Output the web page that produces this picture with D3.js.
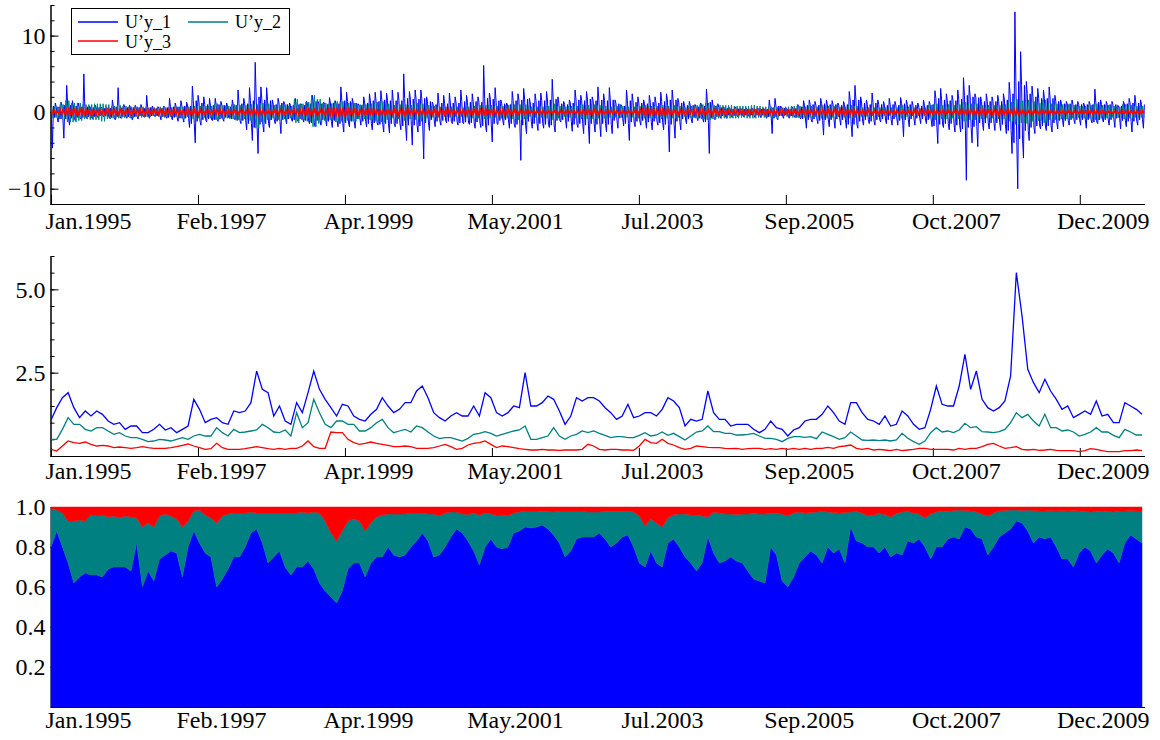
<!DOCTYPE html>
<html>
<head>
<meta charset="utf-8">
<script src="https://cdn.jsdelivr.net/npm/d3@7"></script>
<style>
  body { margin: 0; background: #fff; }
  svg text { font-family: "Liberation Serif", "Times New Roman", serif; }
</style>
</head>
<body>
<div class="chart"></div>
<script>
"use strict";

// one sample per month, Jan.1995 .. late 2010
var seriesNames = ["U\u2019y_1", "U\u2019y_2", "U\u2019y_3"];
var tickLabels = ["Jan.1995", "Feb.1997", "Apr.1999", "May.2001", "Jul.2003", "Sep.2005", "Oct.2007", "Dec.2009"];
var monthsPerTick = 25.73;

// top panel: monthly high / low of the daily series, plus the size of the dense core of U'y_1
var u1Hi = [3.7,1.2,1.3,3.5,1.5,1.2,5.0,0.8,0.9,0.7, 0.6,1.6,3.2,1.0,0.9,0.9,1.0,2.2,0.8,0.7,
  0.8,1.8,1.2,1.5,1.3,3.4,2.2,2.0,1.8,1.8, 1.4,1.2,1.6,2.9,1.8,3.2,6.5,3.3,3.2,1.6,
  1.8,1.4,1.2,1.8,1.1,1.4,2.2,1.4,1.3,1.9, 1.5,3.3,2.6,1.8,1.1,2.0,2.4,2.6,2.8,2.5,
  2.9,2.6,5.0,2.7,2.9,2.9,2.0,1.3,2.5,2.2, 2.5,2.0,2.9,2.2,2.4,2.0,6.1,2.5,3.2,1.6,
  1.2,2.7,2.4,3.1,1.8,2.4,2.5,2.7,4.3,2.0, 1.4,1.6,2.9,2.2,2.7,2.0,3.3,2.4,3.2,1.6,
  1.0,2.9,2.4,2.0,1.6,2.2,2.0,2.6,2.4,2.9, 1.8,1.4,1.4,1.0,1.2,3.0,1.6,1.1,0.7,0.6,
  0.7,0.5,0.5,0.5,0.5,0.5,1.6,1.8,0.8,0.5, 0.7,1.0,1.5,1.6,1.4,1.8,1.6,1.5,1.2,1.4,
  2.7,3.5,2.0,1.6,2.5,1.6,1.4,1.8,1.4,1.9, 1.6,1.4,1.2,1.6,1.4,2.8,3.1,2.4,2.2,2.9,
  4.5,3.5,2.4,2.0,2.4,2.0,2.2,2.4,3.9,13.1, 7.9,4.0,3.4,3.1,2.9,3.3,2.2,1.6,1.4,1.6,
  1.4,1.2,1.4,3.0,1.6,1.4,1.4,0.9,1.4,1.8, 2.2,1.6];
var u1Lo = [-4.7,-1.3,-3.4,-1.7,-1.1,-0.9,-0.8,-0.9,-0.7,-0.6, -0.8,-1.0,-0.8,-0.8,-1.0,-0.9,-0.6,-0.8,-0.6,-1.0,
  -0.8,-1.0,-1.2,-1.3,-2.0,-4.0,-1.7,-1.3,-1.1,-1.2, -1.2,-0.8,-1.0,-1.5,-2.3,-3.7,-5.4,-2.6,-2.0,-1.5,
  -2.8,-1.5,-1.2,-1.2,-1.3,-1.5,-1.9,-1.7,-1.8,-2.0, -1.9,-2.6,-1.9,-2.1,-1.7,-1.9,-2.3,-1.7,-2.6,-2.7,
  -1.9,-2.3,-3.7,-4.3,-2.6,-6.1,-2.4,-1.9,-1.7,-1.4, -1.5,-1.7,-1.5,-1.6,-2.1,-2.0,-2.6,-3.9,-1.6,-1.7,
  -2.1,-2.0,-6.3,-2.8,-2.1,-2.4,-2.1,-2.0,-2.6,-1.3, -2.1,-2.5,-2.0,-2.8,-4.1,-2.6,-3.2,-2.6,-2.8,-2.1,
  -1.8,-3.7,-1.9,-1.7,-2.1,-2.3,-1.7,-2.3,-5.2,-3.4, -2.3,-1.5,-1.4,-1.1,-1.3,-5.4,-1.0,-0.8,-0.8,-0.7,
  -0.6,-0.6,-0.6,-0.7,-0.7,-0.8,-2.8,-1.0,-0.8,-0.8, -0.7,-0.9,-2.1,-1.3,-1.5,-3.0,-1.9,-2.1,-1.7,-2.1,
  -3.2,-2.1,-1.7,-1.5,-1.7,-1.3,-1.5,-1.7,-1.7,-3.2, -1.9,-1.7,-1.5,-1.5,-1.9,-4.1,-2.0,-2.3,-2.6,-2.6,
  -8.9,-4.0,-4.5,-2.4,-2.2,-2.4,-2.4,-2.8,-5.4,-10.0, -6.0,-3.7,-2.8,-2.2,-2.4,-2.6,-2.2,-1.9,-1.7,-1.5,
  -1.7,-2.1,-1.4,-1.5,-1.3,-1.7,-2.0,-2.2,-1.9,-2.6, -1.7,-2.1];
var u1Core = [0.8,0.7,0.9,0.9,0.8,0.7,0.7,0.6,0.6,0.5,0.5,0.7,
  0.6,0.6,0.6,0.6,0.5,0.6,0.5,0.5,0.6,0.7,0.7,0.8,
  0.8,1.5,1.2,1.0,0.9,1.0,0.9,0.7,0.9,1.1,1.1,1.5,
  2.0,1.6,1.5,1.0,1.2,1.0,0.9,1.0,0.9,1.1,1.4,1.1,
  1.0,1.2,1.1,1.5,1.4,1.2,0.9,1.2,1.5,1.4,1.6,1.5,
  1.5,1.5,1.8,1.7,1.7,1.8,1.4,1.0,1.2,1.1,1.2,1.2,
  1.4,1.3,1.4,1.3,1.8,1.7,1.5,1.1,1.0,1.5,1.6,1.7,
  1.2,1.5,1.5,1.6,1.7,1.1,1.0,1.2,1.6,1.5,1.7,1.5,
  1.6,1.5,1.6,1.1,0.8,1.5,1.3,1.2,1.1,1.3,1.2,1.4,
  1.6,1.6,1.2,0.9,0.9,0.7,0.8,1.3,0.8,0.6,0.5,0.4,
  0.45,0.4,0.4,0.4,0.4,0.4,0.6,0.8,0.5,0.4,0.5,0.7,
  0.9,1.0,0.9,1.1,1.0,1.0,0.9,1.0,1.6,1.6,1.2,1.0,
  1.2,1.0,0.9,1.0,0.9,1.1,1.0,0.9,0.8,0.9,1.0,1.8,
  1.6,1.5,1.5,1.7,2.2,2.0,1.9,1.4,1.4,1.4,1.4,1.6,
  2.4,4.0,3.5,2.4,2.0,1.8,1.8,1.8,1.4,1.1,1.1,1.0,
  1.0,1.0,1.0,1.3,1.0,1.0,1.0,0.8,1.1,1.2,1.2,1.0];
var u2Hi = [0.7,0.7,1.0,1.5,1.2,1.2,1.0,1.0,1.1,1.1, 1.0,0.8,0.9,0.8,0.7,0.7,0.7,0.6,0.6,0.7,
  0.6,0.6,0.7,0.7,0.7,0.8,0.8,0.8,0.8,1.1, 0.9,0.8,1.0,0.9,0.9,1.0,1.0,1.2,1.1,0.9,
  0.9,1.0,0.8,1.7,1.1,1.3,2.2,1.7,1.2,1.1, 1.4,1.4,1.2,1.2,1.0,1.0,1.1,1.3,1.4,1.1,
  0.9,1.0,1.0,0.9,1.2,1.1,0.9,0.8,0.7,0.7, 0.7,0.7,0.6,0.7,0.8,0.9,0.9,0.9,0.8,0.8,
  0.9,1.0,1.0,1.0,0.7,0.7,0.7,0.8,1.1,0.8, 0.7,0.8,0.8,1.0,0.9,1.0,0.9,0.8,0.7,0.8,
  0.8,0.7,0.7,0.8,0.9,0.8,0.8,0.9,0.8,0.9, 0.8,0.6,0.8,0.9,1.0,1.2,0.9,0.9,0.9,0.9,
  0.8,0.8,0.8,0.9,0.8,0.7,0.7,0.7,0.6,0.7, 0.8,0.8,0.7,0.8,0.7,0.9,0.8,0.8,0.7,0.7,
  0.9,0.8,0.6,0.6,0.6,0.6,0.6,0.6,0.6,0.9, 0.7,0.6,0.5,0.6,0.9,1.1,0.9,1.0,0.9,1.0,
  1.3,1.1,1.1,0.9,0.9,0.9,0.9,1.0,1.3,1.7, 1.5,1.6,1.4,1.2,1.6,1.1,1.1,1.0,1.0,0.9,
  0.8,0.8,0.9,1.1,0.9,0.9,0.8,0.7,1.0,0.9, 0.8,0.8];
var u2Lo = [-0.8,-0.7,-0.9,-1.3,-1.3,-1.1,-0.9,-1.0,-1.0,-1.2, -0.9,-0.8,-0.8,-0.7,-0.8,-0.6,-0.7,-0.6,-0.5,-0.6,
  -0.7,-0.6,-0.6,-0.8,-0.6,-0.9,-0.8,-0.7,-0.8,-1.0, -0.8,-0.8,-0.9,-1.0,-0.9,-1.1,-2.1,-1.3,-1.0,-0.8,
  -1.0,-0.9,-0.8,-1.4,-1.0,-1.2,-1.9,-1.5,-1.1,-1.0, -1.3,-1.2,-1.1,-1.2,-0.9,-0.9,-1.0,-1.2,-1.3,-1.0,
  -0.8,-0.9,-1.1,-0.9,-1.0,-1.2,-0.8,-0.7,-0.7,-0.6, -0.7,-0.6,-0.6,-0.7,-0.8,-0.8,-0.9,-0.8,-0.7,-0.8,
  -0.8,-0.9,-1.0,-0.9,-0.6,-0.7,-0.7,-0.8,-1.0,-0.8, -0.6,-0.7,-0.8,-0.9,-0.9,-0.9,-0.8,-0.8,-0.7,-0.7,
  -0.7,-0.7,-0.7,-0.8,-0.8,-0.8,-0.8,-0.9,-0.8,-0.8, -0.7,-0.6,-0.7,-0.8,-0.9,-1.0,-0.9,-0.8,-0.8,-0.8,
  -0.8,-0.7,-0.8,-0.8,-0.7,-0.7,-0.6,-0.6,-0.5,-0.6, -0.7,-0.7,-0.7,-0.7,-0.6,-0.8,-0.8,-0.7,-0.6,-0.7,
  -0.8,-0.7,-0.6,-0.6,-0.5,-0.6,-0.5,-0.5,-0.6,-0.8, -0.6,-0.5,-0.5,-0.5,-0.8,-1.0,-0.9,-0.9,-0.8,-0.9,
  -1.2,-1.0,-1.0,-0.9,-0.8,-0.8,-0.9,-0.9,-1.2,-1.6, -1.4,-1.5,-1.2,-1.1,-1.4,-1.0,-1.0,-0.9,-0.9,-0.8,
  -0.7,-0.8,-0.8,-1.0,-0.8,-0.8,-0.7,-0.7,-0.9,-0.8, -0.7,-0.7];
var u3Hi = [0.25,0.2,0.35,0.55,0.5,0.45,0.5,0.4,0.35,0.4, 0.35,0.3,0.3,0.3,0.3,0.3,0.35,0.3,0.3,0.3,
  0.3,0.3,0.35,0.4,0.45,0.35,0.3,0.25,0.25,0.45, 0.3,0.25,0.25,0.25,0.25,0.3,0.35,0.3,0.25,0.25,
  0.3,0.25,0.3,0.3,0.35,0.55,0.35,0.3,0.3,0.6, 0.6,0.6,0.55,0.5,0.4,0.45,0.5,0.45,0.4,0.4,
  0.35,0.35,0.35,0.35,0.3,0.3,0.3,0.3,0.35,0.4, 0.35,0.25,0.3,0.4,0.45,0.5,0.55,0.4,0.3,0.35,
  0.35,0.3,0.25,0.25,0.2,0.2,0.25,0.2,0.2,0.2, 0.2,0.2,0.2,0.25,0.4,0.35,0.25,0.2,0.25,0.25,
  0.2,0.2,0.2,0.35,0.6,0.5,0.45,0.6,0.45,0.4, 0.3,0.25,0.3,0.35,0.35,0.3,0.3,0.3,0.3,0.25,
  0.3,0.25,0.25,0.3,0.3,0.25,0.25,0.25,0.3,0.25, 0.3,0.25,0.3,0.25,0.3,0.3,0.3,0.3,0.35,0.35,
  0.4,0.3,0.25,0.3,0.2,0.25,0.2,0.2,0.25,0.2, 0.2,0.25,0.3,0.3,0.25,0.25,0.25,0.25,0.2,0.3,
  0.25,0.3,0.3,0.35,0.4,0.45,0.35,0.3,0.3,0.35, 0.25,0.2,0.25,0.2,0.2,0.25,0.2,0.2,0.2,0.2,
  0.15,0.2,0.25,0.25,0.2,0.15,0.15,0.15,0.2,0.2, 0.2,0.2];
var u3Lo = [-0.25,-0.2,-0.3,-0.5,-0.45,-0.4,-0.45,-0.4,-0.35,-0.35, -0.3,-0.3,-0.3,-0.25,-0.3,-0.3,-0.3,-0.3,-0.25,-0.3,
  -0.3,-0.3,-0.3,-0.35,-0.4,-0.35,-0.3,-0.25,-0.25,-0.4, -0.3,-0.25,-0.25,-0.25,-0.25,-0.3,-0.35,-0.3,-0.25,-0.25,
  -0.3,-0.25,-0.25,-0.3,-0.35,-0.5,-0.35,-0.3,-0.3,-0.6, -0.6,-0.6,-0.5,-0.45,-0.4,-0.4,-0.45,-0.4,-0.4,-0.35,
  -0.35,-0.35,-0.35,-0.3,-0.3,-0.3,-0.3,-0.35,-0.35,-0.3, -0.3,-0.25,-0.3,-0.35,-0.4,-0.45,-0.5,-0.4,-0.3,-0.35,
  -0.3,-0.3,-0.25,-0.25,-0.2,-0.2,-0.25,-0.2,-0.2,-0.2, -0.2,-0.2,-0.2,-0.25,-0.35,-0.3,-0.25,-0.2,-0.2,-0.25,
  -0.2,-0.2,-0.2,-0.3,-0.5,-0.45,-0.4,-0.5,-0.4,-0.35, -0.3,-0.25,-0.25,-0.3,-0.3,-0.3,-0.3,-0.3,-0.25,-0.25,
  -0.25,-0.25,-0.25,-0.25,-0.25,-0.25,-0.25,-0.25,-0.25,-0.25, -0.25,-0.25,-0.25,-0.25,-0.25,-0.25,-0.3,-0.25,-0.3,-0.3,
  -0.35,-0.3,-0.25,-0.25,-0.2,-0.25,-0.2,-0.2,-0.2,-0.2, -0.2,-0.25,-0.25,-0.25,-0.25,-0.25,-0.25,-0.2,-0.2,-0.25,
  -0.25,-0.25,-0.3,-0.3,-0.35,-0.4,-0.35,-0.3,-0.3,-0.35, -0.25,-0.2,-0.25,-0.2,-0.2,-0.2,-0.2,-0.2,-0.2,-0.2,
  -0.15,-0.2,-0.25,-0.2,-0.2,-0.15,-0.15,-0.15,-0.2,-0.2, -0.2,-0.2];

// middle panel: volatilities
var vol1 = [1.08,1.45,1.75,1.9,1.45,1.15,1.35,1.2,1.35,1.25, 1.05,0.95,1.0,0.8,0.9,0.9,0.7,0.7,0.8,0.95,
  0.78,0.85,0.7,0.8,0.9,1.7,1.4,1.0,1.1,1.15, 1.0,0.95,1.35,1.3,1.35,1.6,2.55,2.0,1.9,1.2,
  1.5,1.05,0.95,1.6,1.3,1.9,2.55,2.0,1.7,1.45, 1.2,1.55,1.5,1.2,1.1,1.05,1.25,1.4,1.75,1.5,
  1.3,1.4,1.6,1.6,1.95,2.1,1.75,1.3,1.15,1.05, 1.2,1.3,1.2,1.2,1.5,1.2,1.9,1.75,1.3,1.2,
  1.3,1.5,1.45,2.5,1.5,1.5,1.6,1.8,1.7,1.35, 0.95,1.2,1.75,1.65,1.75,1.75,1.65,1.45,1.3,1.1,
  1.2,1.55,1.15,1.2,1.3,1.3,1.2,1.4,1.75,1.65, 1.45,0.9,1.1,1.05,1.1,1.95,1.3,1.1,1.1,0.9,
  0.95,0.95,0.95,0.8,0.7,0.8,1.05,0.85,0.8,0.6, 0.78,0.85,1.05,1.1,1.1,1.25,1.5,1.3,1.05,0.95,
  1.6,1.6,1.3,1.1,1.05,0.95,1.2,0.9,0.95,1.35, 1.2,0.95,0.8,0.85,1.4,2.1,1.55,1.5,1.5,2.1,
  3.05,2.0,2.55,1.7,1.45,1.35,1.45,1.65,2.4,5.5, 4.2,2.6,2.2,1.9,2.3,1.95,1.7,1.4,1.5,1.15,
  1.25,1.35,1.25,1.65,1.2,1.25,1.0,1.0,1.6,1.5, 1.4,1.25];
var vol2 = [0.5,0.5,0.8,1.15,0.95,0.95,0.8,0.75,0.85,0.85, 0.75,0.65,0.7,0.6,0.55,0.55,0.5,0.43,0.45,0.5,
  0.48,0.45,0.5,0.55,0.5,0.6,0.65,0.6,0.6,0.85, 0.7,0.6,0.8,0.7,0.72,0.75,0.78,0.95,0.85,0.72,
  0.7,0.78,0.6,1.3,0.85,1.0,1.7,1.3,0.95,0.85, 1.05,1.05,0.95,0.95,0.75,0.75,0.85,1.0,1.1,0.85,
  0.7,0.75,0.8,0.72,0.9,0.85,0.72,0.6,0.52,0.55, 0.55,0.5,0.45,0.53,0.65,0.68,0.73,0.68,0.6,0.65,
  0.7,0.75,0.78,0.9,0.5,0.5,0.55,0.6,0.85,0.6, 0.5,0.6,0.65,0.75,0.7,0.75,0.68,0.62,0.55,0.58,
  0.58,0.55,0.55,0.62,0.7,0.6,0.63,0.72,0.62,0.68, 0.58,0.48,0.6,0.72,0.75,0.9,0.73,0.73,0.68,0.68,
  0.63,0.63,0.65,0.68,0.6,0.53,0.53,0.5,0.43,0.53, 0.58,0.58,0.56,0.58,0.52,0.72,0.65,0.58,0.5,0.55,
  0.72,0.6,0.48,0.47,0.48,0.46,0.48,0.45,0.48,0.68, 0.53,0.43,0.35,0.45,0.7,0.85,0.72,0.75,0.7,0.78,
  0.98,0.85,0.88,0.73,0.72,0.7,0.73,0.8,1.0,1.3, 1.15,1.25,1.05,0.9,1.25,0.85,0.85,0.75,0.78,0.72,
  0.6,0.65,0.72,0.85,0.72,0.72,0.62,0.55,0.8,0.72, 0.63,0.63];
var vol3 = [0.2,0.15,0.3,0.45,0.4,0.38,0.42,0.35,0.3,0.32, 0.3,0.25,0.27,0.25,0.23,0.25,0.28,0.25,0.23,0.23,
  0.23,0.25,0.28,0.32,0.36,0.3,0.25,0.2,0.22,0.38, 0.25,0.2,0.2,0.2,0.22,0.25,0.28,0.25,0.22,0.2,
  0.23,0.2,0.23,0.23,0.3,0.45,0.28,0.23,0.23,0.72, 0.7,0.7,0.5,0.4,0.35,0.38,0.42,0.38,0.35,0.32,
  0.28,0.28,0.3,0.28,0.23,0.23,0.23,0.25,0.3,0.35, 0.28,0.2,0.23,0.33,0.38,0.4,0.45,0.35,0.25,0.3,
  0.28,0.25,0.22,0.2,0.18,0.18,0.2,0.18,0.18,0.17, 0.18,0.18,0.18,0.2,0.35,0.3,0.2,0.18,0.2,0.2,
  0.18,0.18,0.17,0.3,0.5,0.4,0.38,0.5,0.38,0.33, 0.25,0.2,0.23,0.3,0.28,0.26,0.25,0.25,0.23,0.22,
  0.23,0.2,0.22,0.23,0.23,0.2,0.22,0.2,0.23,0.2, 0.23,0.2,0.23,0.2,0.23,0.23,0.26,0.23,0.28,0.3,
  0.33,0.23,0.2,0.23,0.18,0.2,0.18,0.16,0.2,0.16, 0.18,0.2,0.23,0.23,0.2,0.2,0.2,0.2,0.18,0.23,
  0.2,0.23,0.23,0.28,0.35,0.38,0.3,0.23,0.25,0.28, 0.2,0.18,0.2,0.17,0.18,0.2,0.17,0.16,0.16,0.16,
  0.13,0.16,0.22,0.2,0.16,0.13,0.13,0.13,0.16,0.16, 0.18,0.16];

// bottom panel: cumulative shares (blue top edge, teal top edge)
var share1 = [0.8,0.88,0.8,0.72,0.62,0.65,0.67,0.66,0.66,0.65, 0.69,0.7,0.7,0.7,0.68,0.82,0.6,0.68,0.63,0.74,
  0.76,0.78,0.77,0.65,0.8,0.88,0.82,0.77,0.75,0.6, 0.64,0.69,0.75,0.75,0.8,0.87,0.89,0.82,0.72,0.75,
  0.78,0.7,0.66,0.7,0.7,0.73,0.69,0.62,0.58,0.55, 0.52,0.58,0.69,0.72,0.72,0.65,0.72,0.75,0.75,0.8,
  0.76,0.75,0.76,0.8,0.83,0.87,0.83,0.75,0.76,0.8, 0.85,0.89,0.87,0.83,0.78,0.71,0.8,0.84,0.8,0.79,
  0.8,0.87,0.88,0.9,0.895,0.9,0.91,0.89,0.86,0.82, 0.75,0.78,0.84,0.85,0.85,0.85,0.87,0.84,0.8,0.82,
  0.85,0.86,0.8,0.72,0.7,0.78,0.72,0.7,0.82,0.84, 0.8,0.75,0.72,0.68,0.72,0.85,0.77,0.72,0.73,0.75,
  0.73,0.72,0.68,0.64,0.63,0.62,0.8,0.76,0.63,0.6, 0.65,0.72,0.75,0.78,0.76,0.72,0.8,0.77,0.79,0.72,
  0.9,0.83,0.82,0.8,0.8,0.77,0.8,0.75,0.77,0.76, 0.83,0.82,0.84,0.8,0.74,0.8,0.8,0.84,0.85,0.84,
  0.9,0.89,0.85,0.84,0.76,0.8,0.85,0.87,0.89,0.93, 0.92,0.88,0.82,0.85,0.84,0.85,0.8,0.74,0.74,0.7,
  0.77,0.8,0.78,0.72,0.76,0.79,0.77,0.72,0.82,0.86, 0.84,0.82];
var share12 = [0.99,0.985,0.97,0.93,0.93,0.935,0.93,0.96,0.96,0.96, 0.95,0.955,0.945,0.955,0.95,0.945,0.9,0.92,0.9,0.955,
  0.965,0.955,0.94,0.9,0.93,0.98,0.985,0.96,0.945,0.92, 0.955,0.965,0.97,0.97,0.97,0.975,0.97,0.97,0.97,0.97,
  0.97,0.97,0.97,0.97,0.975,0.97,0.975,0.97,0.93,0.87, 0.83,0.88,0.93,0.94,0.93,0.88,0.92,0.95,0.96,0.965,
  0.965,0.965,0.965,0.97,0.97,0.97,0.965,0.965,0.955,0.97, 0.975,0.975,0.965,0.962,0.97,0.96,0.97,0.965,0.96,0.96,
  0.955,0.97,0.975,0.98,0.98,0.98,0.978,0.978,0.975,0.98, 0.98,0.98,0.98,0.98,0.975,0.975,0.975,0.978,0.978,0.978,
  0.978,0.98,0.975,0.955,0.905,0.94,0.92,0.9,0.945,0.962, 0.965,0.965,0.96,0.96,0.955,0.95,0.975,0.97,0.965,0.965,
  0.962,0.965,0.965,0.967,0.965,0.965,0.967,0.967,0.965,0.955, 0.97,0.975,0.97,0.972,0.975,0.978,0.975,0.972,0.97,0.972,
  0.975,0.978,0.97,0.955,0.96,0.968,0.962,0.95,0.968,0.975, 0.978,0.97,0.965,0.945,0.965,0.975,0.98,0.978,0.982,0.985,
  0.982,0.98,0.975,0.965,0.955,0.97,0.98,0.982,0.985,0.985, 0.982,0.985,0.982,0.98,0.98,0.982,0.98,0.982,0.98,0.982,
  0.98,0.978,0.975,0.978,0.98,0.978,0.975,0.98,0.98,0.982, 0.98,0.98];

var colors = ["#0000ff", "#008080", "#ff0000"];
var width = 1160, height = 740;

var svg = d3.select(".chart").append("svg")
    .attr("width", width)
    .attr("height", height);

var x = d3.scaleLinear()
    .domain([0, vol1.length - 1])
    .range([51, 1142]);

var tickPos = tickLabels.map(function(d, i){ return i * monthsPerTick; });

var panels = [
  { y: d3.scaleLinear().domain([-12, 14]).range([204, 5]), major: [-10, 0, 10], minor: d3.range(-12, 15, 2), fmt: d3.format("d"), pad: 8, xt: 9 },
  { y: d3.scaleLinear().domain([0, 6]).range([456, 256]), major: [2.5, 5.0], minor: d3.range(0, 6.01, 0.5), fmt: d3.format(".1f"), pad: 6, xt: 8 },
  { y: d3.scaleLinear().domain([0, 1]).range([707, 507]), major: [0.2, 0.4, 0.6, 0.8, 1.0], minor: [], fmt: d3.format(".1f"), pad: 4, xt: 8 }
];

svg.append("defs").selectAll("clipPath")
  .data(panels).enter().append("clipPath")
    .attr("id", function(d, i){ return "clip" + i; })
  .append("rect")
    .attr("x", 51).attr("width", 1094)
    .attr("y", function(d){ return d.y.range()[1]; })
    .attr("height", function(d){ return d.y.range()[0] - d.y.range()[1]; });

function styleAxis(g, size){
  g.attr("font-family", "'Liberation Serif', 'Times New Roman', serif")
   .attr("font-size", size);
  g.selectAll("path.domain").attr("stroke", "#000").attr("stroke-width", 1);
  g.selectAll("line").attr("stroke", "#000");
  g.selectAll("text").attr("fill", "#000");
}

function drawAxes(p){
  var gx = svg.append("g")
      .attr("transform", "translate(0," + p.y.range()[0] + ")")
      .call(d3.axisBottom(x)
        .tickValues(tickPos)
        .tickSize(-p.xt)
        .tickSizeOuter(0)
        .tickPadding(p.pad)
        .tickFormat(function(d, i){ return tickLabels[i]; }));
  // domain line runs a little past the last sample
  gx.select("path.domain").attr("d", "M50.5,0.5H1145");
  gx.selectAll("text").attr("dx", function(d){ var px = x(d); return Math.max(px + 23, 88) - px; });
  styleAxis(gx, 24);

  if (p.minor.length) {
    var gm = svg.append("g")
        .attr("transform", "translate(50.5,0)")
        .call(d3.axisLeft(p.y).tickValues(p.minor).tickSize(-4).tickSizeOuter(0).tickFormat(""));
    styleAxis(gm, 24);
  }
  var gy = svg.append("g")
      .attr("transform", "translate(50.5,0)")
      .call(d3.axisLeft(p.y).tickValues(p.major).tickSize(-8).tickSizeOuter(0).tickPadding(5).tickFormat(p.fmt));
  styleAxis(gy, 24);
}

panels.forEach(drawAxes);

// ---- top panel: each month is traced through its values at fixed sub-month offsets,
// so the line looks like a dense daily series
function trace(spec){
  var pts = [];
  spec[0][0].forEach(function(v, i){
    spec.forEach(function(s, k){
      pts.push([i - 0.5 + (k + 0.5) / spec.length, s[1] * s[0][i]]);
    });
  });
  return pts;
}

var topY = panels[0].y;
var zline = d3.line()
    .x(function(d){ return x(d[0]); })
    .y(function(d){ return topY(d[1]); });

var topTraces = [
  trace([[u1Core, -1], [u1Hi, 1], [u1Core, 1], [u1Core, -1], [u1Lo, 1], [u1Core, 1]]),
  trace([[u2Hi, 1], [u2Lo, 1], [u2Hi, 1], [u2Lo, 1]]),
  trace([[u3Hi, 1], [u3Lo, 1], [u3Hi, 1], [u3Lo, 1]])
];

svg.append("g")
    .attr("clip-path", "url(#clip0)")
  .selectAll("path")
  .data(topTraces)
  .enter().append("path")
    .attr("d", zline)
    .attr("fill", "none")
    .attr("stroke", function(d, i){ return colors[i]; })
    .attr("stroke-width", function(d, i){ return i === 2 ? 1.4 : 1; });

// ---- middle panel: volatilities
var midY = panels[1].y;
var vline = d3.line()
    .x(function(d, i){ return x(i); })
    .y(function(d){ return midY(d); });

svg.append("g")
    .attr("clip-path", "url(#clip1)")
  .selectAll("path")
  .data([vol1, vol2, vol3])
  .enter().append("path")
    .attr("d", vline)
    .attr("fill", "none")
    .attr("stroke", function(d, i){ return colors[i]; })
    .attr("stroke-width", 1.3);

// ---- bottom panel: stacked shares
var botY = panels[2].y;
var layers = [
  { lo: share1.map(function(){ return 0; }), hi: share1 },
  { lo: share1, hi: share12 },
  { lo: share12, hi: share12.map(function(){ return 1; }) }
];
var area = d3.area()
    .x(function(d, i){ return x(i); })
    .y0(function(d){ return botY(d[0]); })
    .y1(function(d){ return botY(d[1]); });

svg.append("g")
  .selectAll("path")
  .data(layers)
  .enter().append("path")
    .attr("d", function(l){ return area(l.lo.map(function(v, i){ return [v, l.hi[i]]; })); })
    .attr("fill", function(d, i){ return colors[i]; })
    .attr("stroke", function(d, i){ return colors[i]; })
    .attr("stroke-width", 0.5);

// ---- legend
var legend = svg.append("g").attr("class", "legend");
legend.append("rect")
    .attr("x", 71.5).attr("y", 8.5)
    .attr("width", 218).attr("height", 46)
    .attr("fill", "#fff").attr("stroke", "#000");

var item = legend.selectAll("g.item")
  .data(seriesNames)
  .enter().append("g")
    .attr("class", "item")
    .attr("transform", function(d, i){ return "translate(" + (78 + (i % 2) * 110) + "," + (i < 2 ? 22 : 41) + ")"; });

item.append("line")
    .attr("x1", 0).attr("x2", 40)
    .attr("stroke", function(d, i){ return colors[i]; })
    .attr("stroke-width", 1.6);

item.append("text")
    .attr("x", 47)
    .attr("y", function(d, i){ return i < 2 ? 6 : 7; })
    .attr("font-size", 18)
    .attr("fill", "#000")
    .text(function(d){ return d; });
</script>
</body>
</html>
